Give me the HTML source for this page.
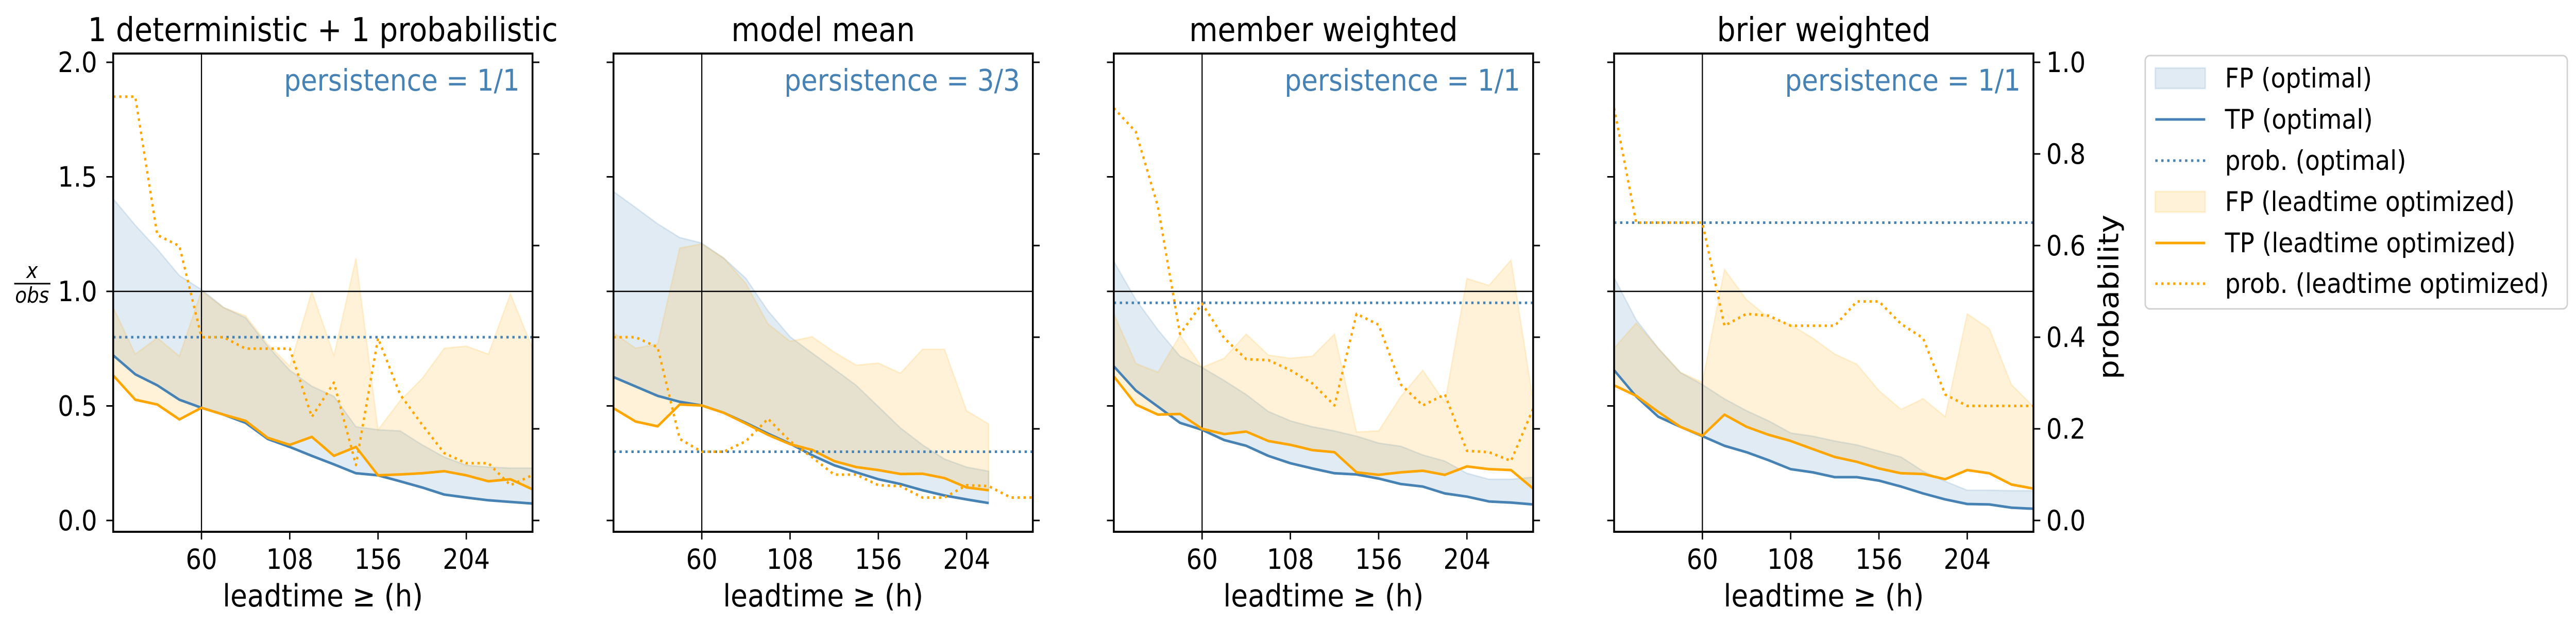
<!DOCTYPE html>
<html><head><meta charset="utf-8">
<style>
html,body{margin:0;padding:0;background:#fff;overflow:hidden;width:100%;height:100%;}
svg{display:block;width:100vw;height:100vh;font-family:"DejaVu Sans","Liberation Sans",sans-serif;}
</style></head>
<body>
<svg id="fig" viewBox="0 0 5621 1216" preserveAspectRatio="none" xmlns="http://www.w3.org/2000/svg"></svg>
<script>
// ---------- data ----------
const leadtimes = [12,24,36,48,60,72,84,96,108,120,132,144,156,168,180,192,204,216,228,240];
const panelTitles = ["1 deterministic + 1 probabilistic","model mean","member weighted","brier weighted"];
const persistenceLabels = ["persistence = 1/1","persistence = 3/3","persistence = 1/1","persistence = 1/1"];
const yTicksLeft = [0.0,0.5,1.0,1.5,2.0];
const yTickLabelsLeft = ["0.0","0.5","1.0","1.5","2.0"];
const yTicksRight = [0.0,0.2,0.4,0.6,0.8,1.0];
const yTickLabelsRight = ["0.0","0.2","0.4","0.6","0.8","1.0"];
const xTicks = [60,108,156,204];
const xTickLabels = ["60","108","156","204"];

// panel 1
const fpOpt1 = [1.404,1.289,1.184,1.069,1.008,0.93,0.885,0.761,0.656,0.586,0.542,0.409,0.396,0.391,0.330,0.277,0.241,0.233,0.229,0.229];
const tpOpt1 = [0.721,0.638,0.590,0.527,0.492,0.462,0.426,0.356,0.321,0.282,0.245,0.206,0.197,0.171,0.144,0.113,0.100,0.088,0.081,0.074];
const fpLt1 = [0.93,0.726,0.797,0.717,1.003,0.929,0.893,0.77,0.673,1.0,0.72,1.144,0.396,0.523,0.62,0.752,0.761,0.726,0.99,0.752];
const tpLt1 = [0.633,0.527,0.506,0.441,0.492,0.462,0.435,0.361,0.330,0.365,0.282,0.321,0.197,0.201,0.206,0.215,0.197,0.171,0.180,0.136];
const probLt1 = [0.925,0.925,0.623,0.599,0.40,0.40,0.375,0.375,0.375,0.226,0.301,0.121,0.398,0.275,0.209,0.147,0.125,0.125,0.077,0.099];
const probOpt1 = 0.40;
// panel 2
const fpOpt2 = [1.436,1.366,1.295,1.235,1.211,1.145,1.057,0.915,0.802,0.731,0.661,0.590,0.497,0.404,0.330,0.268,0.233,0.215];
const tpOpt2 = [0.626,0.585,0.544,0.518,0.502,0.470,0.426,0.379,0.335,0.285,0.241,0.210,0.180,0.159,0.132,0.109,0.092,0.076];
const fpLt2 = [0.819,0.752,0.770,1.189,1.207,1.145,1.034,0.858,0.782,0.802,0.735,0.678,0.687,0.643,0.747,0.747,0.479,0.421];
const tpLt2 = [0.490,0.432,0.411,0.506,0.502,0.470,0.423,0.374,0.333,0.308,0.259,0.233,0.220,0.203,0.204,0.185,0.144,0.132];
const probLt2 = [0.40,0.40,0.378,0.178,0.15,0.15,0.173,0.222,0.173,0.138,0.10,0.10,0.077,0.075,0.05,0.05,0.077,0.075,0.05,0.05];
const probOpt2 = 0.15;
// panel 3
const fpOpt3 = [1.131,0.964,0.832,0.717,0.668,0.611,0.550,0.476,0.435,0.409,0.391,0.368,0.338,0.324,0.286,0.259,0.206,0.180,0.180,0.189];
const tpOpt3 = [0.673,0.567,0.497,0.426,0.396,0.351,0.326,0.282,0.250,0.227,0.206,0.201,0.183,0.159,0.148,0.118,0.104,0.083,0.078,0.070];
const fpLt3 = [0.902,0.685,0.647,0.809,0.668,0.708,0.814,0.722,0.708,0.717,0.814,0.386,0.391,0.541,0.656,0.515,1.056,1.026,1.137,0.523];
const tpLt3 = [0.629,0.506,0.462,0.465,0.400,0.377,0.388,0.347,0.330,0.307,0.298,0.210,0.199,0.210,0.217,0.199,0.236,0.224,0.220,0.139];
const probLt3 = [0.90,0.848,0.685,0.407,0.473,0.398,0.352,0.350,0.328,0.299,0.251,0.451,0.427,0.297,0.251,0.275,0.152,0.149,0.130,0.244];
const probOpt3 = 0.475;
// panel 4
const fpOpt4 = [1.061,0.876,0.752,0.646,0.593,0.531,0.479,0.435,0.382,0.368,0.347,0.330,0.303,0.277,0.215,0.171,0.132,0.132,0.130,0.130];
const tpOpt4 = [0.656,0.541,0.453,0.409,0.368,0.326,0.298,0.263,0.224,0.210,0.189,0.189,0.174,0.148,0.118,0.092,0.072,0.070,0.056,0.051];
const fpLt4 = [0.752,0.862,0.752,0.647,0.603,1.096,0.964,0.885,0.855,0.796,0.726,0.682,0.567,0.485,0.532,0.453,0.902,0.837,0.594,0.497];
const tpLt4 = [0.590,0.544,0.474,0.409,0.370,0.462,0.409,0.374,0.347,0.312,0.277,0.256,0.227,0.206,0.203,0.180,0.220,0.206,0.157,0.139];
const probLt4 = [0.90,0.65,0.65,0.65,0.65,0.425,0.451,0.447,0.425,0.425,0.425,0.478,0.478,0.429,0.398,0.275,0.25,0.25,0.25,0.25];
const probOpt4 = 0.65;

const panels = [
 {fpOpt:fpOpt1,tpOpt:tpOpt1,fpLt:fpLt1,tpLt:tpLt1,probLt:probLt1,probOpt:probOpt1},
 {fpOpt:fpOpt2,tpOpt:tpOpt2,fpLt:fpLt2,tpLt:tpLt2,probLt:probLt2,probOpt:probOpt2},
 {fpOpt:fpOpt3,tpOpt:tpOpt3,fpLt:fpLt3,tpLt:tpLt3,probLt:probLt3,probOpt:probOpt3},
 {fpOpt:fpOpt4,tpOpt:tpOpt4,fpLt:fpLt4,tpLt:tpLt4,probLt:probLt4,probOpt:probOpt4}
];
const legendLabels = ["FP (optimal)","TP (optimal)","prob. (optimal)","FP (leadtime optimized)","TP (leadtime optimized)","prob. (leadtime optimized)"];

// ---------- drawing ----------
const NS = "http://www.w3.org/2000/svg";
const svg = document.getElementById('fig');
const BLUE = "#4682b4", ORANGE = "#ffa500";
const PW = 915, TOP = 104, BOT = 1033, Y0 = 1011, YPU = 445;
function el(tag, attrs, parent){
  const e = document.createElementNS(NS, tag);
  for (const k in attrs) e.setAttribute(k, attrs[k]);
  (parent||svg).appendChild(e); return e;
}
function yL(v){ return Y0 - v*YPU; }
function yR(p){ return Y0 - p*2*YPU; }

panels.forEach((p, k) => {
  const L = 247 + k*1091.7, R = L + PW;
  const xS = h => L + (h-12)/228*PW;
  const g = el('g', {});
  
  
  const clipId = 'clip'+k;
  const cp = el('clipPath', {id:clipId}, g);
  el('rect', {x:L, y:TOP, width:PW, height:BOT-TOP}, cp);
  const plot = el('g', {'clip-path':'url(#'+clipId+')'}, g);

  function area(up, low, color, op, name){
    let d = '';
    up.forEach((v,i)=>{ d += (i?'L':'M') + xS(leadtimes[i]).toFixed(1) + ',' + yL(v).toFixed(1); });
    for (let i = low.length-1; i >= 0; i--) d += 'L' + xS(leadtimes[i]).toFixed(1) + ',' + yL(low[i]).toFixed(1);
    const a = el('path', {d:d+'Z', fill:color, 'fill-opacity':op, stroke:color, 'stroke-opacity':op, 'stroke-width':3}, plot);
    
    
  }
  function line(vals, yfn, color, dash, name){
    const pts = vals.map((v,i)=> xS(leadtimes[i]).toFixed(1)+','+yfn(v).toFixed(1)).join(' ');
    const a = el('polyline', {points:pts, fill:'none', stroke:color, 'stroke-width':5, 'stroke-dasharray':dash||'none', 'stroke-linejoin':'round'}, plot);
    
    
  }
  area(p.fpOpt, p.tpOpt, BLUE, 0.16, 'fp-optimal-area');
  area(p.fpLt, p.tpLt, ORANGE, 0.15, 'fp-leadtime-area');
  const vl = el('line', {x1:xS(60), x2:xS(60), y1:TOP, y2:BOT, stroke:'#000', 'stroke-width':2.5}, plot);
  
  
  const hl = el('line', {x1:L, x2:R, y1:yL(1), y2:yL(1), stroke:'#000', 'stroke-width':2.5}, plot);
  
  
  line(p.tpOpt, yL, BLUE, null, 'tp-optimal-line');
  line(p.tpLt, yL, ORANGE, null, 'tp-leadtime-line');
  const po = el('line', {x1:L, x2:R, y1:yR(p.probOpt), y2:yR(p.probOpt), stroke:BLUE, 'stroke-width':5, 'stroke-dasharray':'5 8'}, plot);
  
  
  line(p.probLt, yR, ORANGE, '5 8', 'prob-leadtime-line');

  const sp = el('rect', {x:L, y:TOP, width:PW, height:BOT-TOP, fill:'none', stroke:'#000', 'stroke-width':4}, g);
  
  
  yTicksLeft.forEach((v,i)=>{
    el('line', {x1:L-15, x2:L, y1:yL(v), y2:yL(v), stroke:'#000', 'stroke-width':3}, g);
    if (k===0){
      const t = el('text', {x:L-35, y:yL(v)+19, 'text-anchor':'end', 'font-size':54}, g);
      t.textContent = yTickLabelsLeft[i];
      
      
    }
  });
  yTicksRight.forEach((v,i)=>{
    el('line', {x1:R, x2:R+15, y1:yR(v), y2:yR(v), stroke:'#000', 'stroke-width':3}, g);
    if (k===3){
      const t = el('text', {x:R+28, y:yR(v)+19, 'text-anchor':'start', 'font-size':54}, g);
      t.textContent = yTickLabelsRight[i];
      
      
    }
  });
  xTicks.forEach((h,i)=>{
    el('line', {x1:xS(h), x2:xS(h), y1:BOT, y2:BOT+15, stroke:'#000', 'stroke-width':3}, g);
    const t = el('text', {x:xS(h), y:BOT+72, 'text-anchor':'middle', 'font-size':54}, g);
    t.textContent = xTickLabels[i];
    
    
  });
  const xl = el('text', {x:L+PW/2, y:1178, 'text-anchor':'middle', 'font-size':60}, g);
  xl.textContent = 'leadtime ≥ (h)';
  
  
  const tt = el('text', {x:L+PW/2, y:80, 'text-anchor':'middle', 'font-size':64}, g);
  tt.textContent = panelTitles[k];
  
  
  const ps = el('text', {x:R-28, y:176, 'text-anchor':'end', 'font-size':58, fill:BLUE}, g);
  ps.textContent = persistenceLabels[k];
  
  
});

const yl = el('g', {});


const fx = el('text', {x:70, y:540, 'text-anchor':'middle', 'font-size':42, 'font-style':'italic'}, yl);
fx.textContent = 'x';
el('line', {x1:31, x2:110, y1:551, y2:551, stroke:'#000', 'stroke-width':3}, yl);
const fo = el('text', {x:70, y:588, 'text-anchor':'middle', 'font-size':42, 'font-style':'italic'}, yl);
fo.textContent = 'obs';

const rl = el('text', {x:0, y:0, 'text-anchor':'middle', 'font-size':60, transform:'translate(4622,577) rotate(-90)'});
rl.textContent = 'probability';



const lg = el('g', {});


el('rect', {x:4681, y:108, width:921, height:492, rx:10, fill:'#fff', stroke:'#d0d0d0', 'stroke-width':3}, lg);
const rows = [152,232,312,392,472,551];
const kinds = [['area',BLUE,0.16],['line',BLUE],['dot',BLUE],['area',ORANGE,0.15],['line',ORANGE],['dot',ORANGE]];
rows.forEach((cy,i)=>{
  const e = el('g', {}, lg);
  
  
  const kd = kinds[i];
  if (kd[0]==='area') el('rect', {x:4703, y:cy-20, width:109, height:40, fill:kd[1], 'fill-opacity':kd[2], stroke:kd[1], 'stroke-opacity':kd[2], 'stroke-width':3}, e);
  else el('line', {x1:4703, x2:4812, y1:cy, y2:cy, stroke:kd[1], 'stroke-width':5, 'stroke-dasharray': kd[0]==='dot' ? '5 8' : 'none'}, e);
  const t = el('text', {x:4855, y:cy+18, 'font-size':53}, e);
  t.textContent = legendLabels[i];
});
</script>
</body></html>
